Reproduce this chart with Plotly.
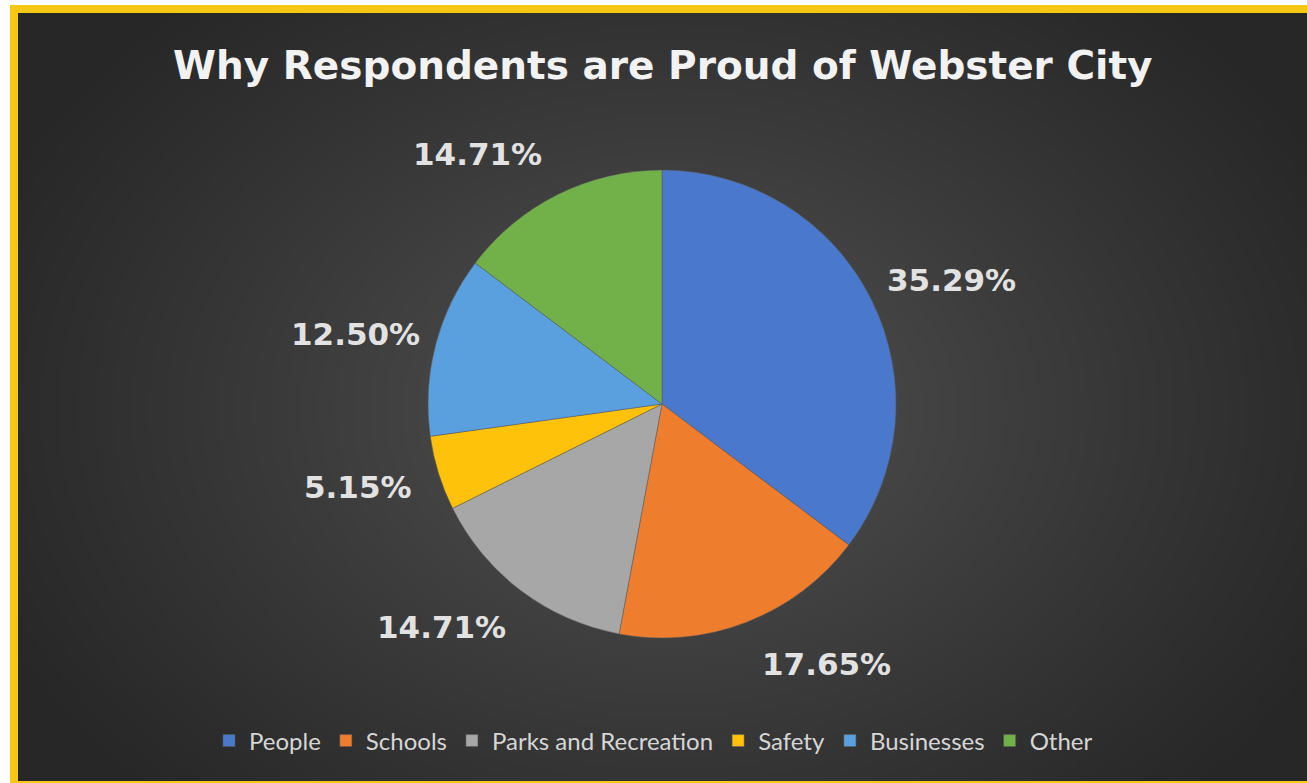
import base64
import math
import struct
import zlib

import numpy as np
import plotly.graph_objects as go

# ---- data -------------------------------------------------------------
categories = ["People", "Schools", "Parks and Recreation", "Safety", "Businesses", "Other"]
shares = [35.29, 17.65, 14.71, 5.15, 12.50, 14.71]
colors = ["#4a78cc", "#ef7d2e", "#a7a7a7", "#ffc20a", "#5a9fde", "#72b04a"]
title_text = "Why Respondents are Proud of Webster City"

# ---- canvas geometry (pixels) -----------------------------------------
W, H = 1307, 783
CX, CY, R = 662, 404, 234          # pie centre and radius
LABEL_DX = 80                       # horizontal push of labels beyond the rim
LABEL_DY = 45                       # vertical push of labels beyond the rim
BORDER = "#f5c816"
TEXT = "#e2e2e2"


def png_data_uri(rgb):
    """Encode an (h, w, 3) uint8 array as a PNG data URI."""
    h, w, _ = rgb.shape
    raw = b"".join(b"\x00" + rgb[i].tobytes() for i in range(h))

    def chunk(tag, data):
        return (struct.pack(">I", len(data)) + tag + data
                + struct.pack(">I", zlib.crc32(tag + data) & 0xFFFFFFFF))

    png = (b"\x89PNG\r\n\x1a\n"
           + chunk(b"IHDR", struct.pack(">IIBBBBB", w, h, 8, 2, 0, 0, 0))
           + chunk(b"IDAT", zlib.compress(raw, 9))
           + chunk(b"IEND", b""))
    return "data:image/png;base64," + base64.b64encode(png).decode()


# radial dark-grey background, rendered at quarter resolution and stretched
scale = 4
gw, gh = W // scale, H // scale
yy, xx = np.mgrid[0:gh, 0:gw].astype(float)
xx = xx * scale
yy = yy * scale
d = np.sqrt(((xx - CX) / 760.0) ** 2 + ((yy - CY) / 560.0) ** 2)
t = np.clip(1.0 - d, 0.0, 1.0) ** 1.1
grey = (0x27 + (0x53 - 0x27) * t).astype(np.uint8)
bg = np.dstack([grey, grey, grey])


def px(x):
    return x / W


def py(y):
    return 1 - y / H


fig = go.Figure()

fig.add_trace(go.Pie(
    labels=categories,
    values=shares,
    sort=False,
    direction="clockwise",
    rotation=0,
    marker=dict(colors=colors, line=dict(color="#5a5a5a", width=0.5)),
    textinfo="none",
    hoverinfo="label+percent",
    domain=dict(x=[px(CX - R), px(CX + R)], y=[py(CY + R), py(CY - R)]),
    showlegend=True,
))

# data labels: anchored at each slice's mid-angle on the rim, pushed outward
total = sum(shares)
annotations = []
cum = 0.0
for v in shares:
    mid = (cum + v / 2) / total * 2 * math.pi
    cum += v
    s, c = math.sin(mid), math.cos(mid)
    lx = CX + R * s + math.copysign(LABEL_DX, s)
    ly = CY - R * c - LABEL_DY * c
    annotations.append(dict(
        x=px(lx), y=py(ly), xref="paper", yref="paper",
        text=f"{v:.2f}%", showarrow=False,
        xanchor="center", yanchor="middle",
        font=dict(family="DejaVu Sans", size=31, color=TEXT, weight="bold"),
    ))

annotations.append(dict(
    x=px(CX), y=py(65), xref="paper", yref="paper",
    text=title_text, showarrow=False, xanchor="center", yanchor="middle",
    font=dict(family="DejaVu Sans", size=39, color="#f2f2f2", weight="bold"),
))

fig.update_layout(
    width=W, height=H,
    margin=dict(l=0, r=0, t=0, b=0),
    paper_bgcolor="white",
    plot_bgcolor="rgba(0,0,0,0)",
    images=[dict(
        source=png_data_uri(bg), xref="paper", yref="paper",
        x=px(10), y=py(5), sizex=px(W - 10), sizey=(H - 5) / H,
        xanchor="left", yanchor="top", sizing="stretch", layer="below",
    )],
    shapes=[dict(
        type="rect", xref="paper", yref="paper",
        x0=px(14), x1=px(W + 8), y0=py(H + 2), y1=py(9),
        line=dict(color=BORDER, width=8), fillcolor="rgba(0,0,0,0)",
        layer="above",
    )],
    annotations=annotations,
    legend=dict(
        orientation="h", x=0.5, xanchor="center", y=py(741), yanchor="middle",
        font=dict(family="Lato", size=24, color="#d6d6d6"),
        bgcolor="rgba(0,0,0,0)", itemclick=False,
    ),
)

fig.write_html("out.html")
